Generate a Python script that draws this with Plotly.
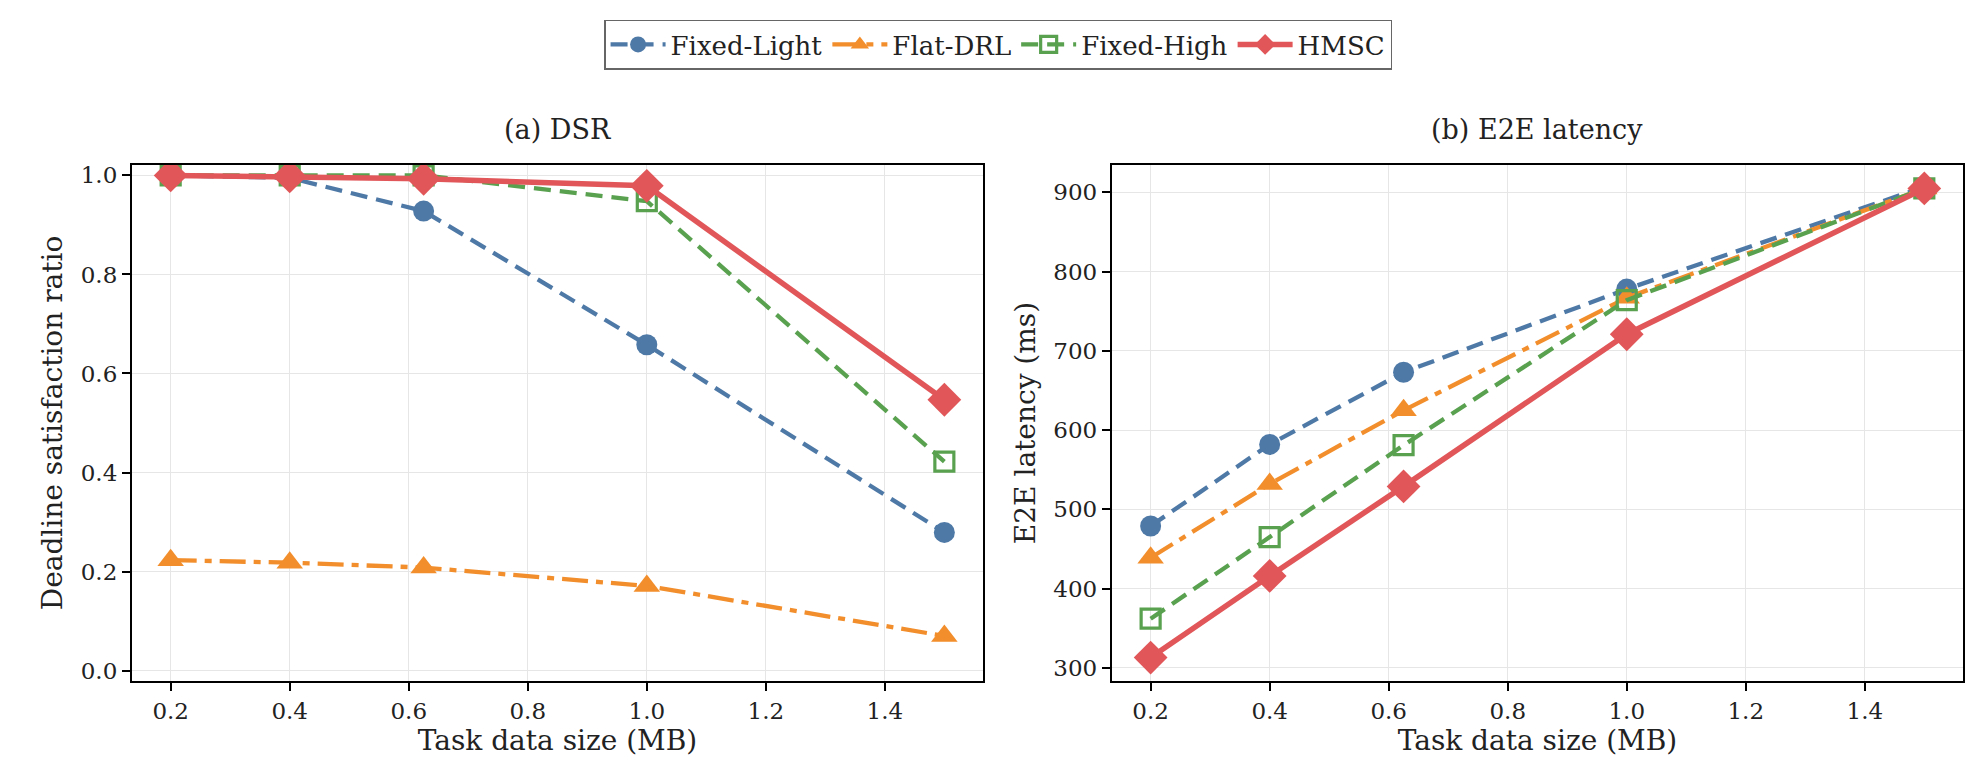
import plotly.graph_objects as go

# Data
sizes = [0.2, 0.4, 0.625, 1.0, 1.5]

dsr_fixed_light = [1.0, 0.995, 0.928, 0.658, 0.279]
dsr_flat_drl = [0.223, 0.218, 0.208, 0.171, 0.070]
dsr_fixed_high = [1.0, 1.0, 1.0, 0.948, 0.422]
dsr_hmsc = [1.0, 0.998, 0.993, 0.979, 0.547]

lat_fixed_light = [479, 582, 673, 778, 907]
lat_flat_drl = [439, 532, 625, 767, 905]
lat_fixed_high = [362, 465, 581, 764, 905]
lat_hmsc = [313, 416, 529, 721, 905]

names = ["Fixed-Light", "Flat-DRL", "Fixed-High", "HMSC"]
colors = ["#4e79a7", "#f28e2b", "#59a14f", "#e15759"]
dashes = ["17px,9px", "26px,8px,7px,8px", "17px,9px", "solid"]
widths = [4.3, 4.3, 4.3, 5.5]
markers = [
    dict(symbol="circle", size=21),
    dict(symbol="triangle-up", size=23),
    dict(symbol="square-open", size=19, line=dict(width=3.2)),
    dict(symbol="diamond", size=26),
]

FONT = "DejaVu Serif"

fig = go.Figure()

panels = [
    ("x", "y", [dsr_fixed_light, dsr_flat_drl, dsr_fixed_high, dsr_hmsc], True),
    ("x2", "y2", [lat_fixed_light, lat_flat_drl, lat_fixed_high, lat_hmsc], False),
]
for xa, ya, series, show in panels:
    for i, vals in enumerate(series):
        m = dict(markers[i])
        m["color"] = colors[i]
        if "line" in m:
            m["line"] = dict(width=m["line"]["width"], color=colors[i])
        fig.add_trace(go.Scatter(
            x=sizes, y=vals, name=names[i], mode="lines+markers",
            line=dict(color=colors[i], width=widths[i], dash=dashes[i]),
            marker=m, xaxis=xa, yaxis=ya, showlegend=show,
        ))

axis_style = dict(
    showline=True, linecolor="black", linewidth=2.2, mirror=True,
    ticks="outside", ticklen=8, tickwidth=2, tickcolor="black",
    showgrid=True, gridcolor="#e6e6e6", gridwidth=1.2, zeroline=False,
    tickfont=dict(family=FONT, size=23, color="#222"),
)
title_font = dict(family=FONT, size=28, color="#222")

fig.update_layout(
    width=1980, height=771,
    paper_bgcolor="white", plot_bgcolor="white",
    margin=dict(l=124, r=25, t=157, b=98),
    font=dict(family=FONT, color="#222"),
    xaxis=dict(domain=[0, 0.4648], range=[0.135, 1.565], tickvals=[0.2, 0.4, 0.6, 0.8, 1.0, 1.2, 1.4],
               tickformat=".1f", title=dict(text="Task data size (MB)", font=title_font, standoff=6),
               anchor="y", **axis_style),
    yaxis=dict(domain=[0, 1], range=[-0.021, 1.021], tickvals=[0, 0.2, 0.4, 0.6, 0.8, 1.0],
               tickformat=".1f", title=dict(text="Deadline satisfaction ratio", font=title_font, standoff=10),
               anchor="x", **axis_style),
    xaxis2=dict(domain=[0.5352, 1], range=[0.135, 1.565], tickvals=[0.2, 0.4, 0.6, 0.8, 1.0, 1.2, 1.4],
                tickformat=".1f", title=dict(text="Task data size (MB)", font=title_font, standoff=6),
                anchor="y2", **axis_style),
    yaxis2=dict(domain=[0, 1], range=[283.4, 934.6], dtick=100,
                title=dict(text="E2E latency (ms)", font=title_font, standoff=10),
                anchor="x2", **axis_style),
    legend=dict(
        orientation="h", xref="paper", yref="container",
        x=0.473, xanchor="center", y=0.985, yanchor="top",
        bordercolor="#666", borderwidth=1.5, bgcolor="white",
        font=dict(family=FONT, size=26, color="#222"),
        itemwidth=55, tracegroupgap=0,
    ),
    annotations=[
        dict(text="(a) DSR", x=0.2324, y=1.068, xref="paper", yref="paper",
             showarrow=False, xanchor="center", yanchor="middle", font=dict(family=FONT, size=27, color="#222")),
        dict(text="(b) E2E latency", x=0.7676, y=1.068, xref="paper", yref="paper",
             showarrow=False, xanchor="center", yanchor="middle", font=dict(family=FONT, size=27, color="#222")),
    ],
)

fig.write_html("out.html")
